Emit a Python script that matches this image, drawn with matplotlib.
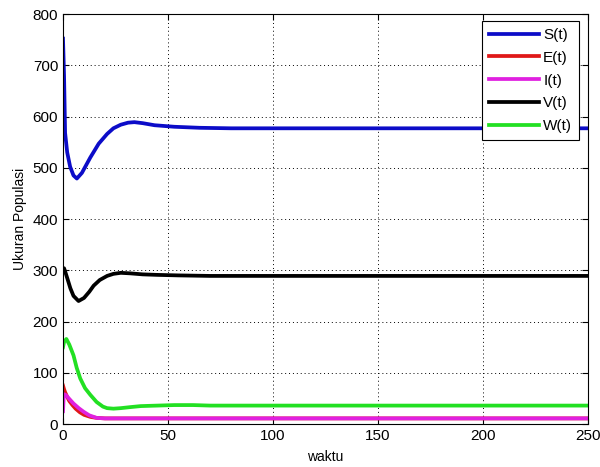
import matplotlib
matplotlib.use('Agg')
import matplotlib.pyplot as plt

# titik-titik waktu dan nilai yang dibaca dari grafik
t_S = [0, 0.5, 1, 2, 3.4, 5, 6.6, 9, 13, 17, 21, 24, 27.5, 31, 34, 38, 43.6, 53, 65, 80, 250]
S = [752, 680, 568, 530, 502, 485, 479, 490, 520, 547, 566, 577, 584, 588, 589, 587, 583, 580, 578, 577, 577]

t_E = [0, 0.5, 1, 2, 3, 4.5, 6, 8, 10, 13, 16, 20, 250]
E = [75, 68, 62, 53, 45, 37, 30, 23, 18, 14, 12, 11, 11]

t_I = [0, 0.3, 0.7, 1.5, 3, 5, 7.5, 9.8, 12.5, 16, 20, 250]
I = [25, 50, 58, 56, 49, 40, 31, 24, 17, 12, 11, 11]

t_V = [0, 0.5, 1, 2, 3.5, 5, 7.4, 10, 12.5, 14.6, 17.5, 21, 24, 27.5, 32, 38, 45, 55, 70, 250]
V = [300, 304, 298, 285, 265, 250, 240, 246, 258, 270, 281, 289, 293, 295, 294, 292, 291, 290, 289, 289]

t_W = [0, 0.5, 1.6, 3, 5, 6.5, 8.2, 10.5, 13, 16, 19, 21, 24, 27.5, 32, 37, 45, 53, 62, 70, 250]
W = [150, 160, 166, 155, 134, 110, 89, 70, 57, 43, 34, 31, 30, 31, 33, 35, 36, 37, 37, 36, 36]

xticks = [0, 50, 100, 150, 200, 250]
yticks = [0, 100, 200, 300, 400, 500, 600, 700, 800]

plt.rcParams['font.family'] = ['Liberation Sans', 'DejaVu Sans']

fig = plt.figure(figsize=(6.0, 4.67), dpi=100)
ax = fig.add_axes([0.105, 0.092, 0.875, 0.878])

lw = 2.7
ax.plot(t_S, S, color='#0c0cc8', linewidth=lw, label='S(t)')
ax.plot(t_E, E, color='#e01818', linewidth=lw, label='E(t)')
ax.plot(t_I, I, color='#e020e0', linewidth=lw, label='I(t)')
ax.plot(t_V, V, color='black', linewidth=lw, label='V(t)')
ax.plot(t_W, W, color='#22e022', linewidth=lw, label='W(t)')

ax.set_xlim(0, 250)
ax.set_ylim(0, 800)
ax.set_xticks(xticks)
ax.set_yticks(yticks)
ax.tick_params(direction='in', labelsize=11, length=4, top=True, right=True)
ax.grid(True, linestyle=(0, (1, 3)), color='black', linewidth=0.7)

ax.set_xlabel('waktu', fontsize=10, labelpad=5)
ax.set_ylabel('Ukuran Populasi', fontsize=10, labelpad=4)

leg = ax.legend(loc='upper right', bbox_to_anchor=(0.983, 0.983), borderaxespad=0,
                fontsize=11, handlelength=3.3, handletextpad=0.25, labelspacing=0.58,
                fancybox=False, framealpha=1, edgecolor='black', borderpad=0.45)
leg.get_frame().set_linewidth(0.8)

fig.savefig('out.png', dpi=100)
